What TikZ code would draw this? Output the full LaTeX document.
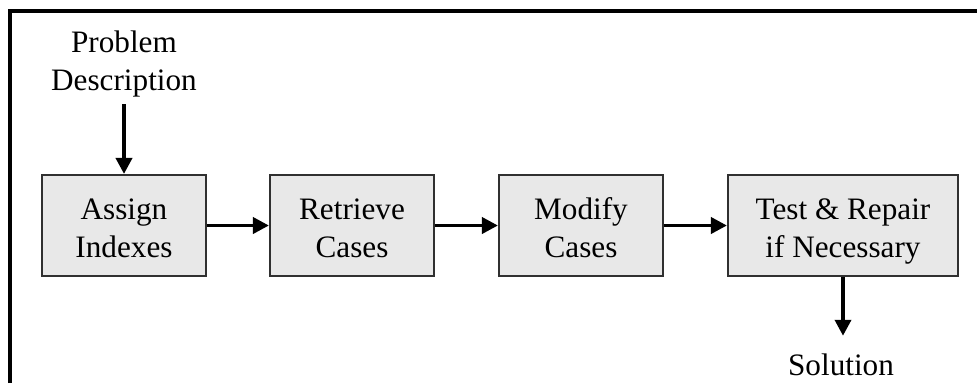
\documentclass[tikz,border=0pt]{standalone}
\usepackage{fontspec}
\setmainfont{Liberation Serif}
\usetikzlibrary{arrows.meta}
\definecolor{boxfill}{HTML}{E8E8E8}
\definecolor{boxline}{HTML}{303030}
\newcommand\mytopstrut{\rule{0pt}{24.8pt}}
\newcommand\mybotstrut{\rule[-6pt]{0pt}{6pt}}
\tikzset{
  procbox/.style={draw=boxline, fill=boxfill, line width=1.6pt, align=center,
    minimum height=75.75pt, inner sep=0pt,
    font=\fontsize{23.4}{28.5}\selectfont},
  lbl/.style={align=center, inner sep=0pt, font=\fontsize{23.4}{28.5}\selectfont},
  arr/.style={line width=2.8pt, -{Triangle[length=12pt,width=12pt]}}
}
\begin{document}
\begin{tikzpicture}[x=0.75pt,y=-0.75pt]
\useasboundingbox (0,0) rectangle (977,383);
\draw[line width=2.4pt] (10,383) -- (10,11) -- (977,11);
\node[procbox, minimum width=123pt] (b1) at (124,225.5) {\mytopstrut Assign\\Indexes\mybotstrut};
\node[procbox, minimum width=123pt] (b2) at (352,225.5) {\mytopstrut Retrieve\\Cases\mybotstrut};
\node[procbox, minimum width=123pt] (b3) at (581,225.5) {\mytopstrut Modify\\Cases\mybotstrut};
\node[procbox, minimum width=172.5pt] (b4) at (843,225.5) {\mytopstrut Test \& Repair\\if Necessary\mybotstrut};
\node[lbl, anchor=south] (prob) at (124,99) {Problem\\Description\mybotstrut};
\node[lbl, anchor=base] (sol) at (841,375) {Solution};
\draw[arr, shorten <=4pt] (prob.south) -- (b1.north);
\draw[arr] (b1.east) -- (b2.west);
\draw[arr] (b2.east) -- (b3.west);
\draw[arr] (b3.east) -- (b4.west);
\draw[arr, shorten >=13pt] (b4.south) -- (b4.south |- sol.north);
\end{tikzpicture}
\end{document}
